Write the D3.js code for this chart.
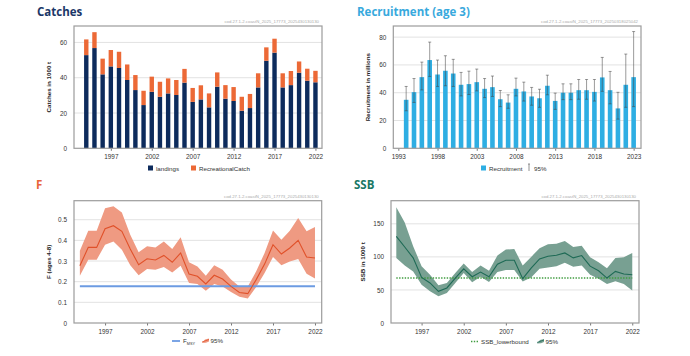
<!DOCTYPE html>
<html><head><meta charset="utf-8">
<script src="https://cdn.jsdelivr.net/npm/d3@7"></script>
<style>
body{margin:0;background:#fff}
svg{display:block}
text{font-family:"Liberation Sans",Arial,sans-serif}
.ttl{font-family:"Open Sans","Liberation Sans",sans-serif;font-weight:bold}
</style>
</head><body>
<svg id="c" width="690" height="356"></svg>
<script>
// ---------------- DATA ----------------
const catchYears = [1994,1995,1996,1997,1998,1999,2000,2001,2002,2003,2004,2005,2006,2007,2008,2009,2010,2011,2012,2013,2014,2015,2016,2017,2018,2019,2020,2021,2022];
const landings =     [52.8,56.8,41.9,46.4,45.5,38.7,33.0,24.5,32.0,29.2,31.1,30.2,37.2,26.3,27.7,23.2,34.9,28.1,26.8,21.3,22.8,34.5,49.6,54.2,34.5,35.8,42.8,38.3,37.4];
const recreational = [ 8.9, 9.0, 8.9, 9.3, 9.2, 8.8, 8.5, 8.1, 8.6, 8.5, 8.5, 8.5, 7.8, 7.9, 8.0, 7.9, 8.1, 7.7, 7.9, 7.9, 8.0, 8.0, 7.6, 7.9, 8.0, 8.0, 6.4, 6.8, 6.5];
const catchTicks = [1997,2002,2007,2012,2017,2022];
const catchYTicks = [0,20,40,60];

const recYears = [1994,1995,1996,1997,1998,1999,2000,2001,2002,2003,2004,2005,2006,2007,2008,2009,2010,2011,2012,2013,2014,2015,2016,2017,2018,2019,2020,2021,2022,2023];
const recruitment = [34.9,40.4,51.2,63.5,53.1,55.8,53.8,45.7,46.2,47.6,42.8,44.0,35.3,32.9,42.8,40.9,37.3,36.0,45.0,34.1,40.0,40.0,41.8,41.8,40.6,51.0,41.8,28.7,45.7,51.2];
const recLow =      [27.0,33.0,42.0,51.7,44.5,45.0,44.5,37.7,38.7,41.3,36.5,37.3,30.0,28.8,37.7,34.0,31.0,29.5,38.5,28.0,35.0,35.0,35.3,35.3,34.0,41.0,32.0,21.0,29.5,30.0];
const recHigh =     [44.5,50.2,62.0,76.4,63.5,66.6,64.0,54.6,55.5,57.0,50.2,52.0,41.6,38.5,50.5,47.6,43.8,42.5,52.6,39.7,46.4,46.4,49.5,49.5,49.5,65.4,55.3,40.3,67.8,84.0];
const recTicks = [1993,1998,2003,2008,2013,2018,2023];
const recYTicks = [0,20,40,60,80];

const fYears = [1994,1995,1996,1997,1998,1999,2000,2001,2002,2003,2004,2005,2006,2007,2008,2009,2010,2011,2012,2013,2014,2015,2016,2017,2018,2019,2020,2021,2022];
const fMean = [0.277,0.366,0.366,0.456,0.471,0.444,0.358,0.282,0.311,0.305,0.327,0.294,0.339,0.237,0.226,0.189,0.231,0.213,0.177,0.148,0.142,0.210,0.285,0.379,0.334,0.363,0.400,0.319,0.315];
const fLow =  [0.229,0.306,0.306,0.379,0.394,0.355,0.279,0.231,0.261,0.258,0.271,0.245,0.277,0.194,0.189,0.156,0.189,0.177,0.150,0.127,0.118,0.174,0.242,0.319,0.279,0.298,0.310,0.239,0.215];
const fHigh = [0.350,0.447,0.447,0.556,0.565,0.535,0.427,0.342,0.371,0.366,0.395,0.358,0.415,0.294,0.274,0.229,0.279,0.258,0.210,0.177,0.177,0.250,0.339,0.448,0.403,0.447,0.508,0.444,0.465];
const fMSY = 0.178;
const fYTicks = [0,0.1,0.2,0.3,0.4,0.5];
const fTicks = [1997,2002,2007,2012,2017,2022];

const ssbYears = [1994,1995,1996,1997,1998,1999,2000,2001,2002,2003,2004,2005,2006,2007,2008,2009,2010,2011,2012,2013,2014,2015,2016,2017,2018,2019,2020,2021,2022];
const ssb =     [131,115,98.5,69,60.6,48,53,68,82,70,77,70,89,95,95,67,83,97,101,102.5,106,98.5,102,86,79,68,78,74,73];
const ssbLow =  [98.5,87,78,58,48,40.4,45.5,60.6,75.8,61.6,70,62,77,80,80,62.6,69,82,84,86,91,85,87,73,67,59,63,59,49];
const ssbHigh = [175,152,116,86,73,57,60.6,75.8,90,77,87,79,102,111,112,87,100,113,119,120,124,115,117,99.5,92,83,98.5,99.5,106];
const ssbLowerbound = 68;
const ssbYTicks = [0,50,100,150];
const ssbTicks = [1997,2002,2007,2012,2017,2022];

// ---------------- DRAW ----------------
const svg = d3.select("#c");
svg.append("rect").attr("width",690).attr("height",356).attr("fill","#fff");

function panel(o){
  const g = svg.append("g");
  const x = d3.scaleLinear().domain(o.xDomain).range([o.x0,o.x1]);
  const y = d3.scaleLinear().domain(o.yDomain).range([o.y1,o.y0]);
  // title
  g.append("text").attr("class","ttl").attr("x",o.tx).attr("y",o.ty)
    .attr("font-size",11.5).attr("fill",o.tColor).text(o.title);
  // watermark
  g.append("text").attr("x",o.x1-3).attr("y",o.y0-3).attr("text-anchor","end")
    .attr("font-size",4.3).attr("fill","#aaa").text(o.mark);
  // plot bg
  g.append("rect").attr("x",o.x0).attr("y",o.y0).attr("width",o.x1-o.x0).attr("height",o.y1-o.y0).attr("fill","#fff");
  // grid
  g.append("g").selectAll("line").data(o.yTicks.filter(d=>d>0)).join("line")
    .attr("x1",o.x0).attr("x2",o.x1).attr("y1",d=>y(d)).attr("y2",d=>y(d))
    .attr("stroke","#e2e2e2").attr("stroke-width",1);
  // y axis
  const ya = g.append("g").attr("transform",`translate(${o.x0},0)`)
    .call(d3.axisLeft(y).tickValues(o.yTicks).tickSize(0).tickPadding(7).tickFormat(o.yFmt||(d=>d)));
  ya.select(".domain").remove();
  ya.selectAll("text").attr("font-size",6.4).attr("fill","#333").attr("font-family","Liberation Sans, Arial, sans-serif");
  // x axis
  const xa = g.append("g").attr("transform",`translate(0,${o.y1})`)
    .call(d3.axisBottom(x).tickValues(o.xTicks).tickSize(2.5).tickPadding(4).tickFormat(d3.format("d")));
  xa.select(".domain").remove();
  xa.selectAll("line").attr("stroke","#777");
  xa.selectAll("text").attr("font-size",6.4).attr("fill","#333").attr("font-family","Liberation Sans, Arial, sans-serif");
  // y label
  g.append("text").attr("transform",`translate(${o.lx},${(o.y0+o.y1)/2}) rotate(-90)`)
    .attr("text-anchor","middle").attr("dominant-baseline","central")
    .attr("font-size",6.2).attr("font-weight","bold").attr("fill","#222").text(o.yLabel);
  const plot = g.append("g");
  // frame drawn after (on top)
  const frame = ()=> g.append("rect").attr("x",o.x0).attr("y",o.y0).attr("width",o.x1-o.x0).attr("height",o.y1-o.y0)
    .attr("fill","none").attr("stroke","#9c9c9c").attr("stroke-width",1.2);
  return {g,plot,x,y,frame};
}

// ---- Catches ----
{
  const p = panel({x0:74,x1:322,y0:26,y1:148.3,xDomain:[1992.5,2022.8],yDomain:[0,69.3],
    yTicks:catchYTicks,xTicks:catchTicks,title:"Catches",tColor:"#1b3768",tx:37,ty:15.5,
    mark:"cod.27.1-2.coastN_2025_17773_2025430130130",yLabel:"Catches in 1000 t",lx:48});
  const bw=4.4;
  const stacked = catchYears.map((yr,i)=>({yr,l:landings[i],r:recreational[i]}));
  p.plot.selectAll("rect.l").data(stacked).join("rect").attr("class","l")
    .attr("x",d=>p.x(d.yr)-bw/2).attr("width",bw)
    .attr("y",d=>p.y(d.l)).attr("height",d=>p.y(0)-p.y(d.l)).attr("fill","#0d2b5c");
  p.plot.selectAll("rect.r").data(stacked).join("rect").attr("class","r")
    .attr("x",d=>p.x(d.yr)-bw/2).attr("width",bw)
    .attr("y",d=>p.y(d.l+d.r)).attr("height",d=>p.y(d.l)-p.y(d.l+d.r)).attr("fill","#ec6936");
  p.frame();
  const lg = svg.append("g");
  lg.append("rect").attr("x",148).attr("y",165.5).attr("width",5).attr("height",5).attr("fill","#0d2b5c");
  lg.append("text").attr("x",156).attr("y",170.5).attr("font-size",6.2).attr("fill","#333").text("landings");
  lg.append("rect").attr("x",191).attr("y",165.5).attr("width",5).attr("height",5).attr("fill","#ec6936");
  lg.append("text").attr("x",199).attr("y",170.5).attr("font-size",6.2).attr("fill","#333").text("RecreationalCatch");
}

// ---- Recruitment ----
{
  const p = panel({x0:393.3,x1:641,y0:26,y1:148.3,xDomain:[1992.36,2023.94],yDomain:[0,88],
    yTicks:recYTicks,xTicks:recTicks,title:"Recruitment (age 3)",tColor:"#38a9dd",tx:357,ty:15.5,
    mark:"cod.27.1-2.coastN_2025_17773_20250318025042",yLabel:"Recruitment in millions",lx:367.5});
  const bw=4.6;
  const rows = recYears.map((yr,i)=>({yr,v:recruitment[i],lo:recLow[i],hi:recHigh[i]}));
  p.plot.selectAll("rect").data(rows).join("rect")
    .attr("x",d=>p.x(d.yr)-bw/2).attr("width",bw)
    .attr("y",d=>p.y(d.v)).attr("height",d=>p.y(0)-p.y(d.v)).attr("fill","#2eaee3");
  const eb = p.plot.append("g").attr("stroke","#444").attr("stroke-opacity",0.6).attr("stroke-width",0.9);
  eb.selectAll("line.v").data(rows).join("line").attr("class","v")
    .attr("x1",d=>p.x(d.yr)).attr("x2",d=>p.x(d.yr)).attr("y1",d=>p.y(d.lo)).attr("y2",d=>p.y(d.hi));
  eb.selectAll("line.h").data(rows).join("line").attr("class","h")
    .attr("x1",d=>p.x(d.yr)-1.5).attr("x2",d=>p.x(d.yr)+1.5).attr("y1",d=>p.y(d.hi)).attr("y2",d=>p.y(d.hi));
  eb.selectAll("line.b").data(rows).join("line").attr("class","b")
    .attr("x1",d=>p.x(d.yr)-1.5).attr("x2",d=>p.x(d.yr)+1.5).attr("y1",d=>p.y(d.lo)).attr("y2",d=>p.y(d.lo));
  p.frame();
  const lg = svg.append("g");
  lg.append("rect").attr("x",481).attr("y",165.5).attr("width",5).attr("height",5).attr("fill","#2eaee3");
  lg.append("text").attr("x",489).attr("y",170.5).attr("font-size",6.2).attr("fill","#333").text("Recruitment");
  lg.append("line").attr("x1",529).attr("x2",529).attr("y1",164).attr("y2",171).attr("stroke","#777").attr("stroke-width",0.8);
  lg.append("line").attr("x1",528).attr("x2",530).attr("y1",164).attr("y2",164).attr("stroke","#777").attr("stroke-width",0.8);
  lg.append("text").attr("x",534).attr("y",170.5).attr("font-size",6.2).attr("fill","#333").text("95%");
}

// ---- F ----
{
  const p = panel({x0:74,x1:321.7,y0:200.7,y1:323,xDomain:[1993.3,2022.8],yDomain:[0,0.592],
    yTicks:fYTicks,xTicks:fTicks,title:"F",tColor:"#e8643a",tx:36,ty:188.5,yFmt:d=>d===0?"0":d3.format(".1f")(d),
    mark:"cod.27.1-2.coastN_2025_17773_2025430130130",yLabel:"F (ages 4-8)",lx:48});
  const rows = fYears.map((yr,i)=>({yr,m:fMean[i],lo:fLow[i],hi:fHigh[i]}));
  p.plot.append("path").datum(rows)
    .attr("d",d3.area().x(d=>p.x(d.yr)).y0(d=>p.y(d.lo)).y1(d=>p.y(d.hi)))
    .attr("fill","#ef9a82");
  p.plot.append("line").attr("x1",p.x(fYears[0])).attr("x2",p.x(fYears[fYears.length-1]))
    .attr("y1",p.y(fMSY)).attr("y2",p.y(fMSY)).attr("stroke","#6c9be2").attr("stroke-width",2);
  p.plot.append("path").datum(rows)
    .attr("d",d3.line().x(d=>p.x(d.yr)).y(d=>p.y(d.m)))
    .attr("fill","none").attr("stroke","#e0512a").attr("stroke-width",1.1);
  p.frame();
  const lg = svg.append("g");
  lg.append("line").attr("x1",172).attr("x2",180).attr("y1",341).attr("y2",341).attr("stroke","#6c9be2").attr("stroke-width",1.8);
  const t = lg.append("text").attr("x",183).attr("y",343.3).attr("font-size",6.2).attr("fill","#333");
  t.append("tspan").text("F");
  t.append("tspan").attr("font-size",3.8).attr("dy",1.5).text("MSY");
  lg.append("path").attr("d","M202,343 L205,339.5 L209,338.5 L209,341.5 L206,342.8 Z").attr("fill","#ef9a82");
  lg.append("line").attr("x1",202).attr("x2",209).attr("y1",342).attr("y2",339.5).attr("stroke","#e0512a").attr("stroke-width",0.8);
  lg.append("text").attr("x",210.5).attr("y",343.3).attr("font-size",6.2).attr("fill","#333").text("95%");
}

// ---- SSB ----
{
  const p = panel({x0:391,x1:639,y0:200.7,y1:323,xDomain:[1993.37,2022.8],yDomain:[0,185],
    yTicks:ssbYTicks,xTicks:ssbTicks,title:"SSB",tColor:"#1a7864",tx:354,ty:188.5,
    mark:"cod.27.1-2.coastN_2025_17773_2025430130130",yLabel:"SSB in 1000 t",lx:362.5});
  const rows = ssbYears.map((yr,i)=>({yr,m:ssb[i],lo:ssbLow[i],hi:ssbHigh[i]}));
  p.plot.append("path").datum(rows)
    .attr("d",d3.area().x(d=>p.x(d.yr)).y0(d=>p.y(d.lo)).y1(d=>p.y(d.hi)))
    .attr("fill","#78a092");
  p.plot.append("line").attr("x1",p.x(ssbYears[0])).attr("x2",p.x(ssbYears[ssbYears.length-1]))
    .attr("y1",p.y(ssbLowerbound)).attr("y2",p.y(ssbLowerbound))
    .attr("stroke","#3f9c3f").attr("stroke-width",1.4).attr("stroke-dasharray","1.4,1.4");
  p.plot.append("path").datum(rows)
    .attr("d",d3.line().x(d=>p.x(d.yr)).y(d=>p.y(d.m)))
    .attr("fill","none").attr("stroke","#1e6a55").attr("stroke-width",1.1);
  p.frame();
  const lg = svg.append("g");
  lg.append("line").attr("x1",471).attr("x2",479).attr("y1",341.5).attr("y2",341.5)
    .attr("stroke","#3f9c3f").attr("stroke-width",1.4).attr("stroke-dasharray","1.4,1.4");
  lg.append("text").attr("x",481).attr("y",343.8).attr("font-size",6.2).attr("fill","#333").text("SSB_lowerbound");
  lg.append("path").attr("d","M537,343.5 L540,340 L544,339 L544,342 L541,343.3 Z").attr("fill","#78a092");
  lg.append("line").attr("x1",537).attr("x2",544).attr("y1",342.5).attr("y2",340).attr("stroke","#1e6a55").attr("stroke-width",0.8);
  lg.append("text").attr("x",545.5).attr("y",343.8).attr("font-size",6.2).attr("fill","#333").text("95%");
}
</script>
</body></html>
